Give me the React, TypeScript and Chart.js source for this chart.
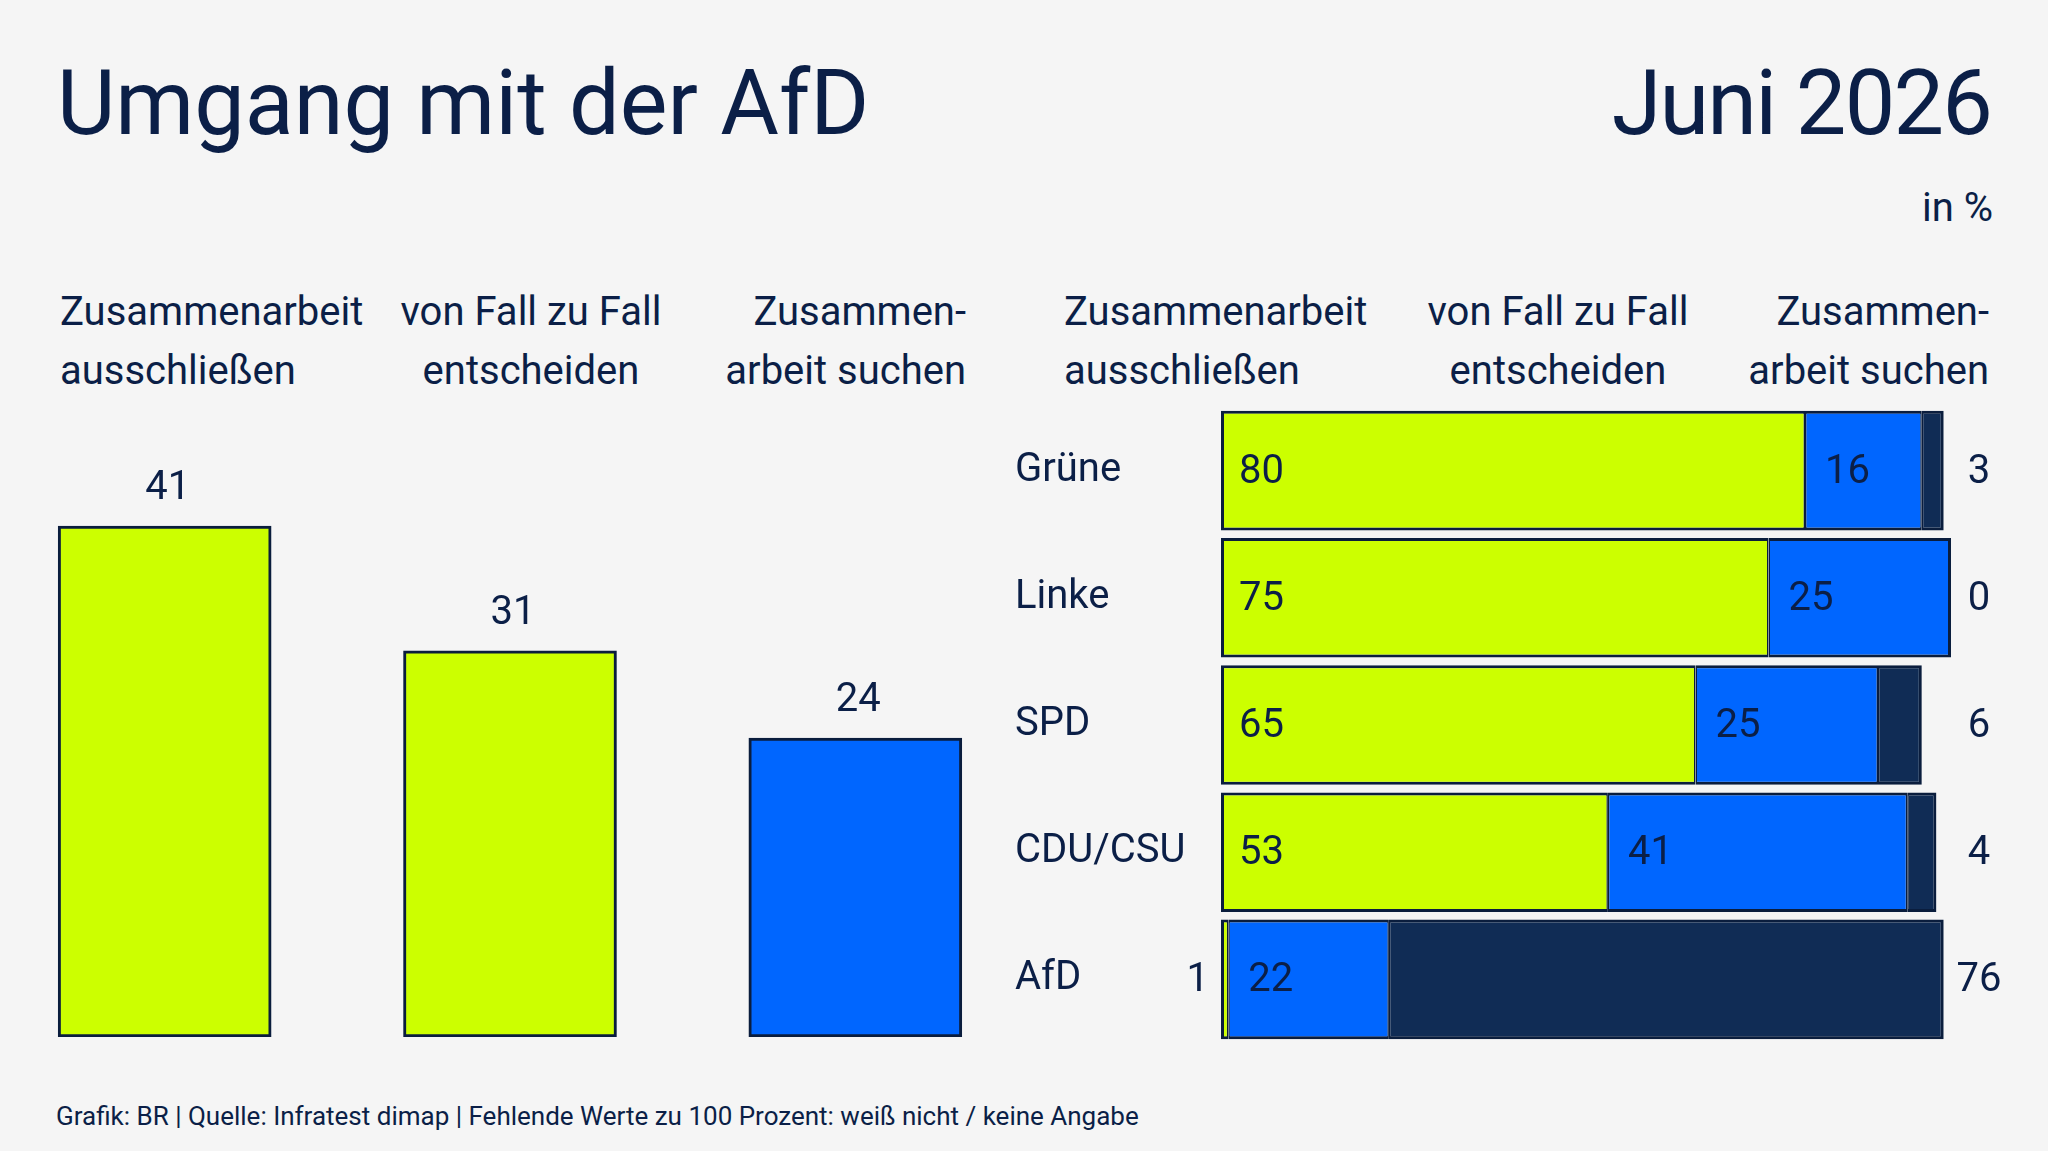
import React, { useEffect, useRef } from "react";
import { Chart, registerables } from "chart.js";

Chart.register(...registerables);

// ---------- data ----------
const overallCategories = ["Zusammenarbeit ausschließen", "von Fall zu Fall entscheiden", "Zusammenarbeit suchen"];
const overallValues = [41, 31, 24];

const parties = ["Grüne", "Linke", "SPD", "CDU/CSU", "AfD"];
const ausschliessen = [80, 75, 65, 53, 1];
const vonFallZuFall = [16, 25, 25, 41, 22];
const suchen = [3, 0, 6, 4, 76];

const headerLines = [
  ["Zusammenarbeit", "ausschließen"],
  ["von Fall zu Fall", "entscheiden"],
  ["Zusammen-", "arbeit suchen"],
];

const titleText = "Umgang mit der AfD";
const dateText = "Juni 2026";
const unitText = "in %";
const footnoteText = "Grafik: BR | Quelle: Infratest dimap | Fehlende Werte zu 100 Prozent: weiß nicht / keine Angabe";

// ---------- styles ----------
const FONT = "Roboto, 'Noto Sans', sans-serif";
const TEXT = "#0b1f47";
const LIME = "#ccff00";
const BLUE = "#0066ff";
const DARK = "#102c55";
const BORDER = "#0a1d3d";
const BG = "#f5f5f5";

type Align = "left" | "right" | "center";

function Label(props: { x: number; y: number; size: number; align?: Align; spacing?: number; children: React.ReactNode }) {
  const { x, y, size, align = "left", spacing = 0, children } = props;
  const style: React.CSSProperties = {
    position: "absolute",
    top: y - 0.842 * size,
    fontSize: size,
    lineHeight: `${size}px`,
    fontFamily: FONT,
    color: TEXT,
    whiteSpace: "nowrap",
    fontWeight: 400,
    letterSpacing: spacing,
  };
  if (align === "left") style.left = x;
  else if (align === "right") style.right = 2048 - x;
  else {
    style.left = x - 500;
    style.width = 1000;
    style.textAlign = "center";
  }
  return <div style={style}>{children}</div>;
}

const overallLabelPlugin = {
  id: "overallLabels",
  afterDatasetsDraw(chart: any) {
    const ctx = chart.ctx;
    const meta = chart.getDatasetMeta(0);
    ctx.save();
    ctx.font = `40px ${FONT}`;
    ctx.fillStyle = TEXT;
    ctx.textAlign = "center";
    ctx.textBaseline = "alphabetic";
    meta.data.forEach((bar: any, i: number) => {
      const { x, y } = bar.getProps(["x", "y"], true);
      ctx.fillText(String(overallValues[i]), x + 3, y - 27);
    });
    ctx.restore();
  },
};

const partyLabelPlugin = {
  id: "partyLabels",
  afterDatasetsDraw(chart: any) {
    const ctx = chart.ctx;
    const xScale = chart.scales.x;
    ctx.save();
    ctx.font = `40px ${FONT}`;
    ctx.fillStyle = TEXT;
    ctx.textBaseline = "middle";
    chart.data.datasets.forEach((ds: any, di: number) => {
      const meta = chart.getDatasetMeta(di);
      meta.data.forEach((bar: any, i: number) => {
        const { x, y, base } = bar.getProps(["x", "y", "base"], true);
        const v = ds.data[i];
        const left = Math.min(x, base);
        if (di === 2) {
          ctx.textAlign = "center";
          ctx.fillText(String(v), xScale.getPixelForValue(100) + 28, y + 2);
        } else if (v < 5) {
          ctx.textAlign = "right";
          ctx.fillText(String(v), left - 12, y + 2);
        } else {
          ctx.textAlign = "left";
          ctx.fillText(String(v), left + (di === 0 ? 18 : 20), y + 2);
        }
      });
    });
    ctx.restore();
  },
};

function OverallChart() {
  const ref = useRef<HTMLCanvasElement | null>(null);
  useEffect(() => {
    if (!ref.current) return;
    const chart = new Chart(ref.current, {
      type: "bar",
      data: {
        labels: overallCategories,
        datasets: [
          {
            data: overallValues,
            backgroundColor: [LIME, LIME, BLUE],
            borderColor: BORDER,
            borderWidth: 3,
            borderSkipped: false,
            barThickness: 213,
          },
        ],
      },
      options: {
        animation: false,
        responsive: false,
        devicePixelRatio: 1,
        layout: { padding: { top: 0, bottom: 3, left: 0, right: 0 } },
        plugins: { legend: { display: false }, tooltip: { enabled: false } },
        scales: {
          x: { display: false },
          y: { display: false, min: 0, max: 50 },
        },
      },
      plugins: [overallLabelPlugin],
    } as any);
    return () => chart.destroy();
  }, []);
  return <canvas ref={ref} width={1036} height={626} style={{ position: "absolute", left: -8, top: 414 }} />;
}

function segBorder(datasets: number[][]) {
  return (ctx: any) => {
    const i = ctx.dataIndex;
    const d = ctx.datasetIndex;
    let first = true;
    for (let k = 0; k < d; k++) if (datasets[k][i] > 0) first = false;
    let last = true;
    for (let k = d + 1; k < datasets.length; k++) if (datasets[k][i] > 0) last = false;
    return { top: 3, bottom: 3, left: first ? 3 : 1.5, right: last ? 3 : 1.5 };
  };
}

function PartyChart() {
  const ref = useRef<HTMLCanvasElement | null>(null);
  useEffect(() => {
    if (!ref.current) return;
    const all = [ausschliessen, vonFallZuFall, suchen];
    const common = {
      borderColor: BORDER,
      borderSkipped: false,
      borderWidth: segBorder(all),
      barPercentage: 1,
      categoryPercentage: 0.94,
    };
    const chart = new Chart(ref.current, {
      type: "bar",
      data: {
        labels: parties,
        datasets: [
          { label: headerLines[0].join(" "), data: ausschliessen, backgroundColor: LIME, ...common },
          { label: headerLines[1].join(" "), data: vonFallZuFall, backgroundColor: BLUE, ...common },
          { label: headerLines[2].join(" "), data: suchen, backgroundColor: DARK, ...common },
        ],
      },
      options: {
        indexAxis: "y",
        animation: false,
        responsive: false,
        devicePixelRatio: 1,
        layout: { padding: { top: 26, bottom: 26, left: 0, right: 97 } },
        plugins: { legend: { display: false }, tooltip: { enabled: false } },
        scales: {
          x: { display: false, stacked: true, min: 0, max: 100 },
          y: {
            stacked: true,
            grid: { display: false },
            border: { display: false },
            ticks: {
              color: TEXT,
              font: { family: FONT, size: 40 },
              crossAlign: "far",
              padding: 0,
              autoSkip: false,
            },
            afterFit: (axis: any) => {
              axis.width = 206;
            },
          },
        },
      },
      plugins: [partyLabelPlugin],
    } as any);
    return () => chart.destroy();
  }, []);
  return <canvas ref={ref} width={1033} height={688} style={{ position: "absolute", left: 1015, top: 381 }} />;
}

export default function App() {
  const leftHeaderX: [number, Align][] = [
    [60, "left"],
    [531, "center"],
    [966, "right"],
  ];
  const rightHeaderX: [number, Align][] = [
    [1064, "left"],
    [1558, "center"],
    [1989, "right"],
  ];
  return (
    <div
      style={{
        position: "absolute",
        left: 0,
        top: 0,
        width: 2048,
        height: 1151,
        background: BG,
        overflow: "hidden",
        fontFamily: FONT,
      }}
    >
      <Label x={57} y={135} size={90}>
        {titleText}
      </Label>
      <Label x={1991} y={135} size={90} align="right" spacing={-1.8}>
        {dateText}
      </Label>
      <Label x={1993} y={222} size={40} align="right">
        {unitText}
      </Label>
      {headerLines.map((lines, i) =>
        lines.map((t, j) => (
          <Label key={`l${i}${j}`} x={leftHeaderX[i][0]} y={326 + j * 59} size={40} align={leftHeaderX[i][1]}>
            {t}
          </Label>
        ))
      )}
      {headerLines.map((lines, i) =>
        lines.map((t, j) => (
          <Label key={`r${i}${j}`} x={rightHeaderX[i][0]} y={326 + j * 59} size={40} align={rightHeaderX[i][1]}>
            {t}
          </Label>
        ))
      )}
      <OverallChart />
      <PartyChart />
      <Label x={56} y={1125} size={26}>
        {footnoteText}
      </Label>
    </div>
  );
}
